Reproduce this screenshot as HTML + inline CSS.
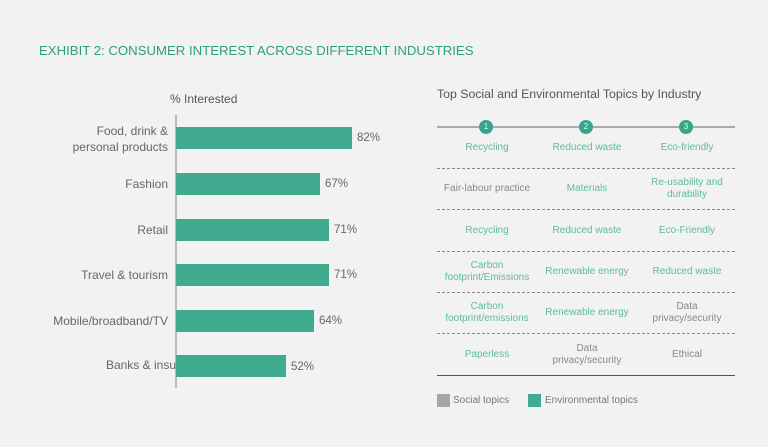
<!DOCTYPE html>
<html><head><style>
body{margin:0;width:768px;height:447px;background:#f2f2f2;font-family:"Liberation Sans",sans-serif;position:relative;overflow:hidden}
.a{position:absolute;white-space:nowrap}
.lab{position:absolute;right:600px;text-align:right;font-size:12px;color:#666;line-height:16px}
.bar{position:absolute;left:176px;height:22px;background:#41ab8f}
.val{position:absolute;font-size:11.5px;color:#666}
.c{position:absolute;width:100px;text-align:center;font-size:10px;line-height:12px;color:#5dbb9f}
.g{color:#888}
.dl{position:absolute;left:437px;width:298px;border-top:1px dashed #888}
.n{position:absolute;width:14px;height:14px;border-radius:7px;background:#36a58a;color:#dff;font-size:8px;text-align:center;line-height:14px;top:120px}
</style></head><body>
<div class="a" style="left:39px;top:43px;font-size:13.2px;color:#2e9e80">EXHIBIT 2: CONSUMER INTEREST ACROSS DIFFERENT INDUSTRIES</div>
<div class="a" style="left:170px;top:92px;font-size:12px;color:#555">% Interested</div>
<div class="a" style="left:437px;top:87px;font-size:12.3px;color:#555">Top Social and Environmental Topics by Industry</div>
<div class="a" style="left:175px;top:115px;width:2px;height:273px;background:#bbb"></div>

<div class="lab" style="top:123px">Food, drink &amp;<br>personal products</div>
<div class="bar" style="top:127px;width:176px"></div><div class="val" style="left:357px;top:132px">82%</div>
<div class="lab" style="top:176px">Fashion</div>
<div class="bar" style="top:173px;width:144px"></div><div class="val" style="left:325px;top:178px">67%</div>
<div class="lab" style="top:222px">Retail</div>
<div class="bar" style="top:219px;width:153px"></div><div class="val" style="left:334px;top:224px">71%</div>
<div class="lab" style="top:267px">Travel &amp; tourism</div>
<div class="bar" style="top:264px;width:153px"></div><div class="val" style="left:334px;top:269px">71%</div>
<div class="lab" style="top:313px">Mobile/broadband/TV</div>
<div class="bar" style="top:310px;width:138px"></div><div class="val" style="left:319px;top:315px">64%</div>
<div class="lab" style="top:357px;right:592px">Banks &amp; insu</div>
<div class="bar" style="top:355px;width:110px"></div><div class="val" style="left:291px;top:361px">52%</div>

<div class="a" style="left:437px;top:126px;width:298px;height:2px;background:#aaa"></div>
<div class="n" style="left:479px">1</div><div class="n" style="left:579px">2</div><div class="n" style="left:679px">3</div>

<div class="c" style="left:437px;top:142px">Recycling</div>
<div class="c" style="left:537px;top:142px">Reduced waste</div>
<div class="c" style="left:637px;top:142px">Eco-friendly</div>
<div class="dl" style="top:168px"></div>
<div class="c g" style="left:437px;top:183px">Fair-labour practice</div>
<div class="c" style="left:537px;top:183px">Materials</div>
<div class="c" style="left:637px;top:177px">Re-usability and<br>durability</div>
<div class="dl" style="top:209px"></div>
<div class="c" style="left:437px;top:225px">Recycling</div>
<div class="c" style="left:537px;top:225px">Reduced waste</div>
<div class="c" style="left:637px;top:225px">Eco-Friendly</div>
<div class="dl" style="top:251px"></div>
<div class="c" style="left:437px;top:260px">Carbon<br>footprint/Emissions</div>
<div class="c" style="left:537px;top:266px">Renewable energy</div>
<div class="c" style="left:637px;top:266px">Reduced waste</div>
<div class="dl" style="top:292px"></div>
<div class="c" style="left:437px;top:301px">Carbon<br>footprint/emissions</div>
<div class="c" style="left:537px;top:307px">Renewable energy</div>
<div class="c g" style="left:637px;top:301px">Data<br>privacy/security</div>
<div class="dl" style="top:333px"></div>
<div class="c" style="left:437px;top:349px">Paperless</div>
<div class="c g" style="left:537px;top:343px">Data<br>privacy/security</div>
<div class="c g" style="left:637px;top:349px">Ethical</div>
<div class="a" style="left:437px;top:375px;width:298px;height:1px;background:#555"></div>

<div class="a" style="left:437px;top:394px;width:13px;height:13px;background:#a6a6a6"></div>
<div class="a" style="left:453px;top:395px;font-size:10px;color:#777">Social topics</div>
<div class="a" style="left:528px;top:394px;width:13px;height:13px;background:#41ab8f"></div>
<div class="a" style="left:545px;top:395px;font-size:10px;color:#777">Environmental topics</div>
</body></html>
